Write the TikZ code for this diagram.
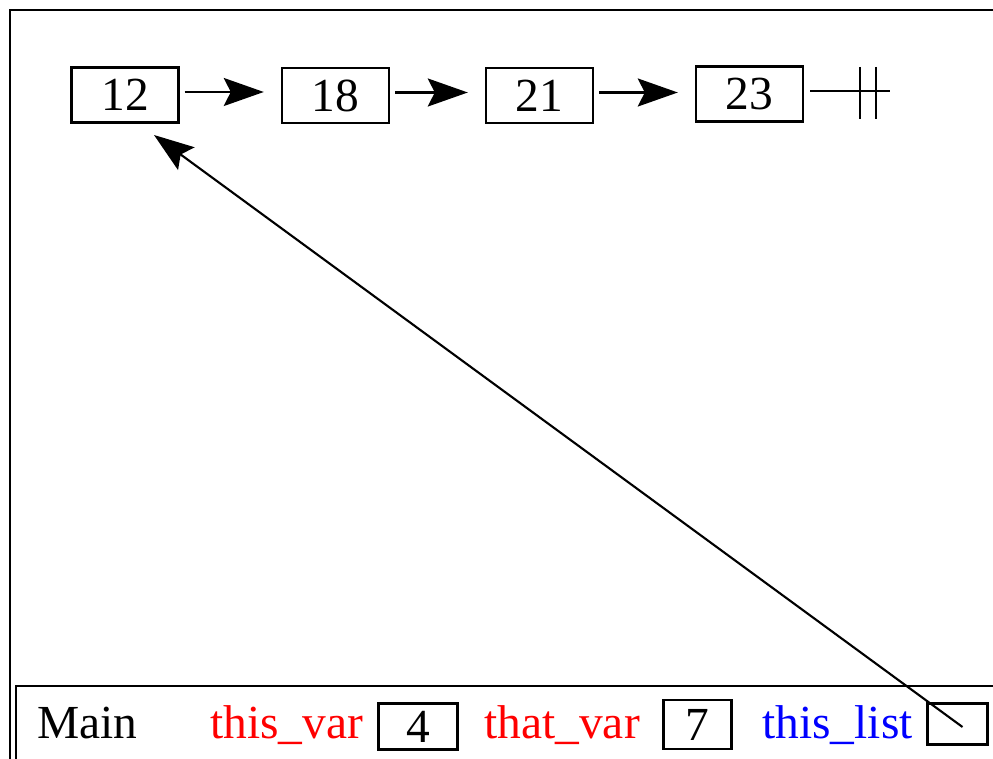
\documentclass[tikz,border=0pt]{standalone}
\usepackage{fontspec}
\setmainfont{Liberation Serif}
\usetikzlibrary{arrows.meta, positioning, calc}
\definecolor{varred}{RGB}{255, 0, 0}
\definecolor{listblue}{RGB}{0, 0, 255}
\newcommand{\cellfont}{\fontsize{27}{31}\selectfont}
\tikzset{
    cellbox/.style={draw, rectangle, line width=1.4pt, minimum width=2.14cm, minimum height=1.1cm, inner sep=0pt, font=\cellfont},
    valbox/.style={cellbox, minimum width=1.58cm, minimum height=0.92cm},
    varname/.style={anchor=base west, inner sep=0pt, font=\cellfont},
    nextarrow/.style={-{Stealth[length=0.8cm, width=0.56cm, inset=0.14cm]}, line width=1.3pt, shorten <=0.1cm, shorten >=0.34cm},
    ptrarrow/.style={-{Stealth[length=0.8cm, width=0.56cm, inset=0.14cm]}, line width=1.2pt},
    framebox/.style={draw, line width=1.4pt},
}

\begin{document}
\begin{tikzpicture}[x=0.02cm, y=-0.02cm]
    \clip (0,0) rectangle (993,759);
    \draw[framebox] (10,10) rectangle (1020,790);
    \draw[framebox] (16,686) rectangle (1020,790);

    \node[cellbox] (n12) at (125,95) {12};
    \node[cellbox] (n18) at (335.5,95.5) {18};
    \node[cellbox] (n21) at (539.5,95.5) {21};
    \node[cellbox] (n23) at (749.5,94) {23};

    \draw[nextarrow] ([yshift=0.06cm]n12.east) -- ([yshift=0.06cm]n12.east -| n18.west);
    \draw[nextarrow] ([yshift=0.06cm]n18.east) -- ([yshift=0.06cm]n18.east -| n21.west);
    \draw[nextarrow] ([yshift=0.06cm]n21.east) -- ([yshift=0.06cm]n21.east -| n23.west);

    \coordinate (nilstart) at ($(n23.east)+(6,-3)$);
    \coordinate (nilend) at ($(nilstart)+(80,0)$);
    \draw[line width=1.3pt] (nilstart) -- (nilend);
    \draw[line width=1.3pt] ($(nilstart)+(50,-24)$) -- ($(nilstart)+(50,28)$);
    \draw[line width=1.3pt] ($(nilstart)+(66,-24)$) -- ($(nilstart)+(66,28)$);

    \node[varname] (main) at (37,738) {Main};
    \node[varname, text=varred] (thisvar) at (210,738) {this\_var};
    \node[valbox] (box4) at (418,726.5) {4};
    \node[varname, text=varred] (thatvar) at (484,738) {that\_var};
    \node[valbox, minimum width=1.36cm, minimum height=0.98cm] (box7) at (697.5,724.5) {7};
    \node[varname, text=listblue] (thislist) at (762,738) {this\_list};
    \node[valbox, minimum width=1.2cm, minimum height=0.82cm] (listbox) at (957.5,724) {};

    \coordinate (listptr) at ($(listbox.center)+(5,3)$);
    \coordinate (headtip) at (154,135);
    \draw[ptrarrow] (listptr) -- (headtip);
\end{tikzpicture}
\end{document}
